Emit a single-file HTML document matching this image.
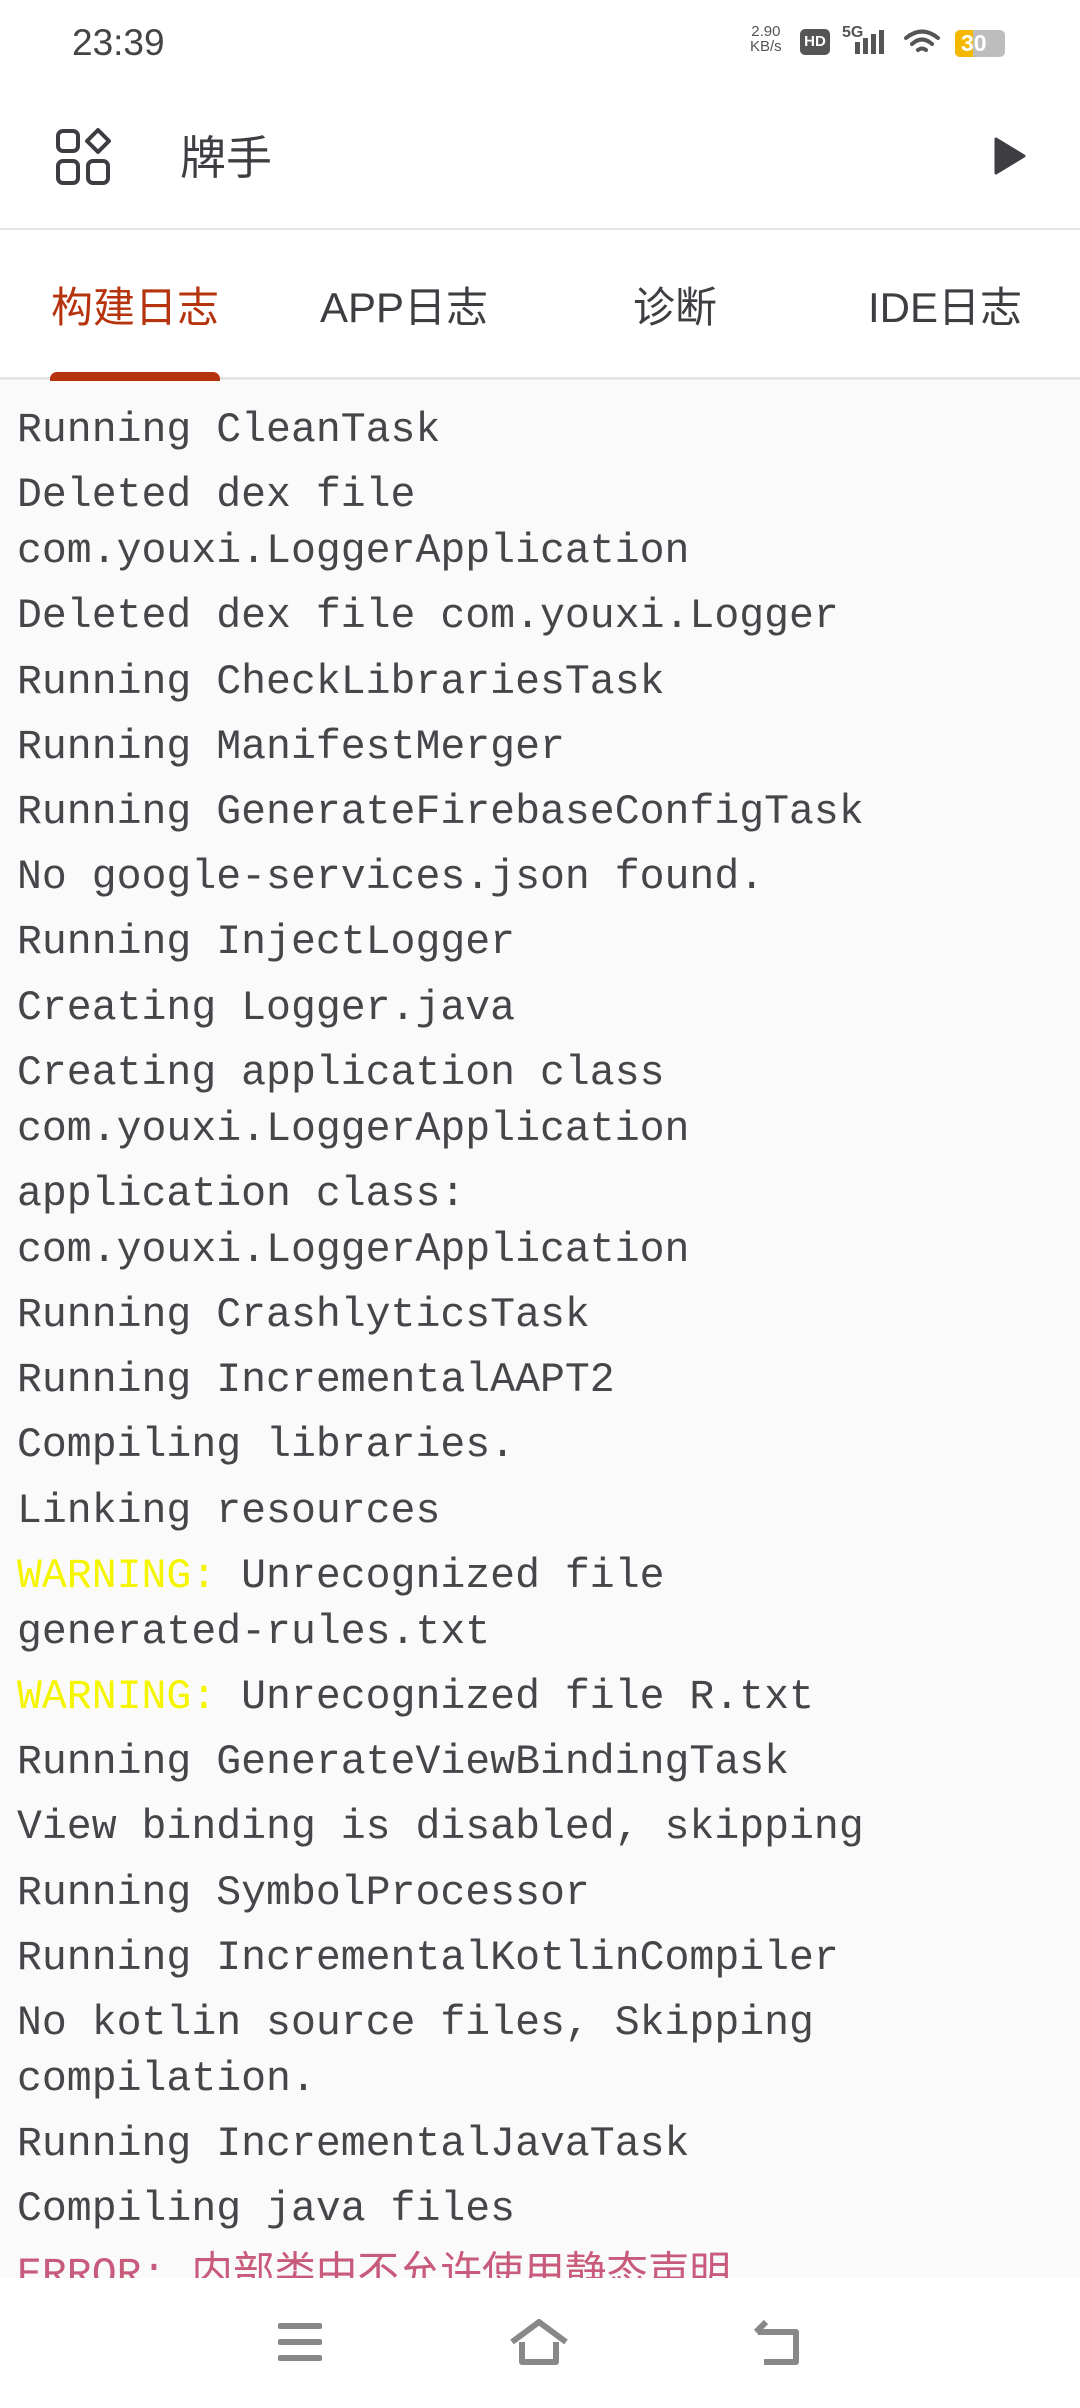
<!DOCTYPE html>
<html><head><meta charset="utf-8">
<style>
*{margin:0;padding:0;box-sizing:border-box}
body{width:1080px;height:2408px;background:#fff;position:relative;overflow:hidden;font-family:"Liberation Sans","Noto Sans CJK SC",sans-serif;color:#3a3a3e}
.abs{position:absolute}
#log{position:absolute;left:0;top:381px;width:1080px;height:1897px;background:#fafafa;overflow:hidden;padding:0 0 0 17px}
#log p{font-family:"Liberation Mono","Noto Sans CJK SC",monospace;font-size:41.5px;line-height:56px;color:#45454a;width:1050px;margin-top:9.2px;white-space:pre-wrap;word-break:normal}
#log p:first-child{margin-top:22px}
#log .w{color:#f5f500}
#log .e{color:#c85a7c}
.nb{white-space:nowrap}
</style></head><body>
<div class="abs" style="left:72px;top:22px;font-size:37px;color:#444">23:39</div>
<div class="abs" style="left:750px;top:24px;font-size:15px;line-height:15px;color:#555;text-align:center">2.90<br>KB/s</div>
<div class="abs" style="left:800px;top:29px;width:30px;height:26px;background:#555;border-radius:5px;color:#fff;font-size:15px;font-weight:bold;text-align:center;line-height:26px">HD</div>
<div class="abs" style="left:842px;top:24px;font-size:16px;font-weight:bold;color:#555">5G</div>
<div class="abs" style="left:855px;top:42px;width:5px;height:12px;background:#555"></div>
<div class="abs" style="left:863px;top:38px;width:5px;height:16px;background:#555"></div>
<div class="abs" style="left:871px;top:34px;width:5px;height:20px;background:#555"></div>
<div class="abs" style="left:879px;top:30px;width:5px;height:24px;background:#555"></div>
<svg class="abs" style="left:903px;top:28px" width="38" height="30" viewBox="0 0 38 30" fill="none" stroke="#555" stroke-width="4" stroke-linecap="round"><path d="M3 10 Q19 -3 35 10"/><path d="M9 16 Q19 7 29 16"/><path d="M15 22 Q19 19 23 22"/></svg>
<div class="abs" style="left:955px;top:30px;width:50px;height:27px;background:#bdbdbd;border-radius:5px;overflow:hidden"><div style="width:18px;height:27px;background:#f5b800"></div><div class="abs" style="left:6px;top:0;font-size:23px;font-weight:bold;color:#fff">30</div></div>

<svg class="abs" style="left:55px;top:128px" width="58" height="58" viewBox="0 0 58 58" fill="none" stroke="#3d3d42" stroke-width="4">
<rect x="3" y="3" width="20" height="20" rx="5"/><rect x="3" y="33" width="20" height="22" rx="5"/><rect x="33" y="33" width="20" height="22" rx="5"/><path d="M43 2 L54 13 L43 24 L32 13 Z" stroke-linejoin="round"/></svg>
<div class="abs" style="left:180px;top:122px;font-size:46px;color:#3d3d42">牌手</div>
<svg class="abs" style="left:994px;top:137px" width="32" height="38"><path d="M2 2 L30 19 L2 36 Z" fill="#3d3d42" stroke="#3d3d42" stroke-width="3" stroke-linejoin="round"/></svg>
<div class="abs" style="left:0;top:228px;width:1080px;height:2px;background:#e6e6e6"></div>

<div class="abs" style="left:51px;top:274px;font-size:42px;color:#b5330d">构建日志</div>
<div class="abs" style="left:320px;top:274px;font-size:42px;color:#3d3d42">APP日志</div>
<div class="abs" style="left:633px;top:274px;font-size:42px;color:#3d3d42">诊断</div>
<div class="abs" style="left:868px;top:274px;font-size:42px;color:#3d3d42">IDE日志</div>
<div class="abs" style="left:0;top:377px;width:1080px;height:3px;background:#e4e4e4"></div>
<div class="abs" style="left:50px;top:372px;width:170px;height:9px;background:#b5330d;border-radius:7px 7px 0 0"></div>

<div id="log">
<p>Running CleanTask</p>
<p>Deleted dex file com.youxi.LoggerApplication</p>
<p>Deleted dex file com.youxi.Logger</p>
<p>Running CheckLibrariesTask</p>
<p>Running ManifestMerger</p>
<p>Running GenerateFirebaseConfigTask</p>
<p>No google-services.json found.</p>
<p>Running InjectLogger</p>
<p>Creating Logger.java</p>
<p>Creating application class com.youxi.LoggerApplication</p>
<p>application class: com.youxi.LoggerApplication</p>
<p>Running CrashlyticsTask</p>
<p>Running IncrementalAAPT2</p>
<p>Compiling libraries.</p>
<p>Linking resources</p>
<p><span class="w">WARNING:</span> Unrecognized file <span class="nb">generated-rules.txt</span></p>
<p><span class="w">WARNING:</span> Unrecognized file R.txt</p>
<p>Running GenerateViewBindingTask</p>
<p>View binding is disabled, skipping</p>
<p>Running SymbolProcessor</p>
<p>Running IncrementalKotlinCompiler</p>
<p>No kotlin source files, Skipping compilation.</p>
<p>Running IncrementalJavaTask</p>
<p>Compiling java files</p>
<p class="e">ERROR: 内部类中不允许使用静态声明</p>
</div>

<svg class="abs" style="left:275px;top:2320px" width="50" height="44"><g fill="#888"><rect x="3" y="3" width="44" height="6" rx="2"/><rect x="3" y="19" width="44" height="6" rx="2"/><rect x="3" y="35" width="44" height="6" rx="2"/></g></svg>
<svg class="abs" style="left:508px;top:2318px" width="62" height="50" fill="none" stroke="#888" stroke-width="6" stroke-linejoin="round"><path d="M4 24 L31 4 L58 24"/><path d="M14 24 V44 H48 V24"/></svg>
<svg class="abs" style="left:752px;top:2318px" width="56" height="50" fill="none" stroke="#888" stroke-width="6" stroke-linejoin="round"><path d="M6 14 H44 V44 H12"/><path d="M14 4 L4 14"/></svg>
</body></html>
